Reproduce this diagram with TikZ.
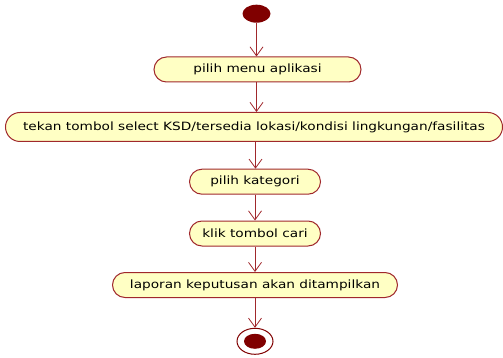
\documentclass[tikz,border=0pt]{standalone}
\usepackage{fontspec}
\setmainfont{DejaVu Sans}
\usetikzlibrary{arrows.meta,shapes.misc,shapes.geometric}
\definecolor{actfill}{HTML}{FFFFC4}
\definecolor{actline}{HTML}{A0282C}
\definecolor{dot}{HTML}{800000}
\tikzset{
  x=1pt,y=1pt,
  action/.style={draw=actline, line width=1pt, fill=actfill, rounded rectangle,
    minimum height=25pt, inner xsep=0pt, font=\fontsize{11.4}{13}\selectfont},
  flow/.style={draw=actline, line width=0.8pt,
    -{Straight Barb[length=9pt,width=13pt,line width=0.8pt]}},
}
\newcommand{\wide}[1]{\scalebox{1.2}[1]{#1}}
\begin{document}
\begin{tikzpicture}
\useasboundingbox (0,0) rectangle (503,-358);
% initial state
\node[ellipse, fill=dot, minimum width=28pt, minimum height=18pt, inner sep=0pt] (start) at (256.5,-13.7) {};
% activities
\node[action, minimum width=207pt] (a1) at (257.5,-69.5) {\wide{pilih menu aplikasi}};
\node[action, minimum width=497pt, minimum height=29pt] (a2) at (254,-127) {\wide{tekan tombol select KSD/tersedia lokasi/kondisi lingkungan/fasilitas}};
\node[action, minimum width=131pt] (a3) at (255,-181.7) {\wide{pilih kategori}};
\node[action, minimum width=131pt] (a4) at (255,-233.5) {\wide{klik tombol cari}};
\node[action, minimum width=285pt] (a5) at (255,-285) {\wide{laporan keputusan akan ditampilkan}};
% final state
\node[ellipse, draw=dot, line width=1pt, fill=white, minimum width=36pt, minimum height=26pt, inner sep=0pt] (stop) at (255,-341.3) {};
\node[ellipse, fill=dot, minimum width=22pt, minimum height=15pt, inner sep=0pt] (stopdot) at (stop.center) {};
% control flow
\draw[flow] (start.south) -- (start.south |- a1.north);
\draw[flow] (a1.south -| 256.5,0) -- (256.5,0 |- a2.north);
\draw[flow] (a2.south -| 255.5,0) -- (255.5,0 |- a3.north);
\draw[flow] (a3.south) -- (a4.north);
\draw[flow] (a4.south) -- (a5.north);
\draw[flow] (a5.south) -- (stop.north);
\end{tikzpicture}
\end{document}
